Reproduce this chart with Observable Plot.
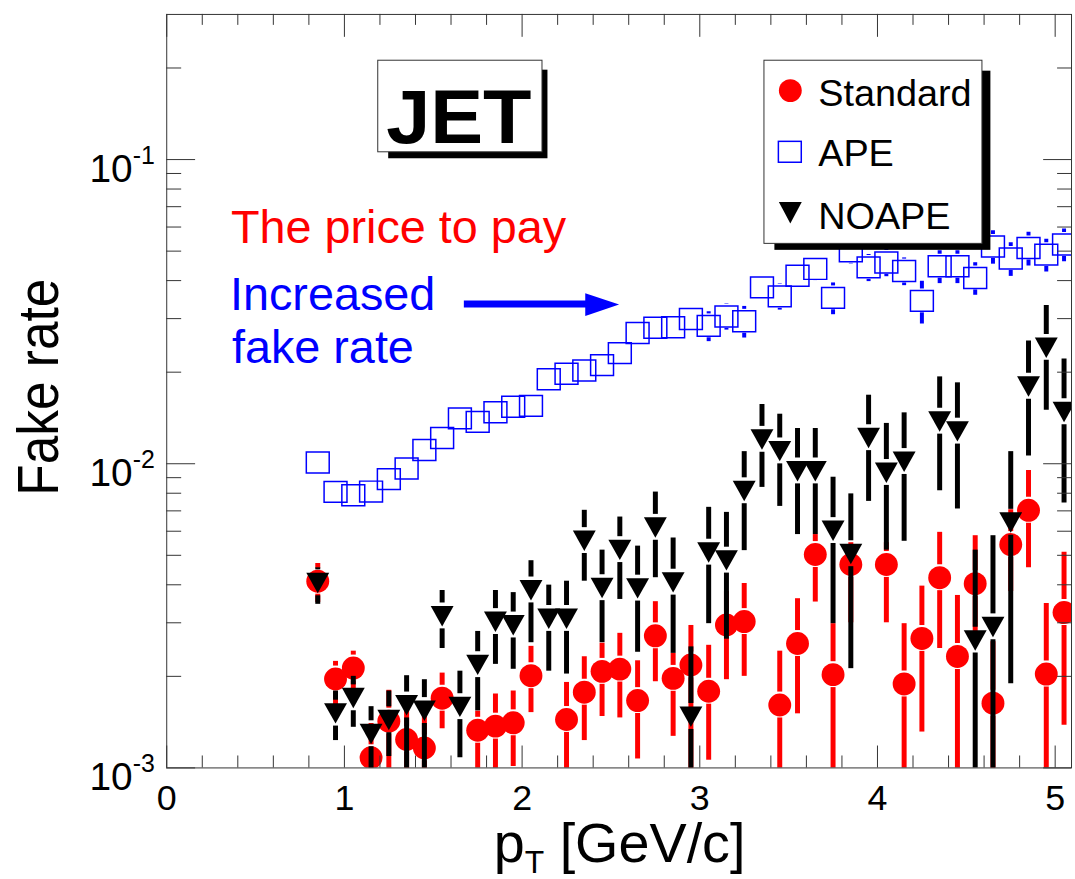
<!DOCTYPE html>
<html>
<head>
<meta charset="utf-8">
<script src="https://cdn.jsdelivr.net/npm/d3@7"></script>
<script src="https://cdn.jsdelivr.net/npm/@observablehq/plot@0.6"></script>
<style>
html,body{margin:0;padding:0;background:#fff;overflow:hidden;}
#chart{position:relative;width:1075px;height:879px;overflow:hidden;}
</style>
</head>
<body>
<div id="chart"></div>
<script>
// ---------------- data ----------------
const ptBins = [0.85,0.95,1.05,1.15,1.25,1.35,1.45,1.55,1.65,1.75,1.85,1.95,2.05,2.15,2.25,2.35,2.45,2.55,2.65,2.75,2.85,2.95,3.05,3.15,3.25,3.35,3.45,3.55,3.65,3.75,3.85,3.95,4.05,4.15,4.25,4.35,4.45,4.55,4.65,4.75,4.85,4.95,5.05];

// Standard (red full circles)
const stdVal = [0.00411,0.00196,0.00213,0.00108,0.001425,0.00124,0.001163,0.001695,null,0.00133,0.001372,0.001407,0.00201,null,0.001443,0.001774,0.002077,0.002113,0.001665,0.002719,0.00197,0.00218,0.001787,0.00295,0.003028,null,0.00161,0.002565,0.00503,0.002026,0.004665,null,0.004665,0.001888,0.002665,0.00422,0.002325,0.004034,0.001632,0.005424,0.00703,0.002035,0.003242];
const stdLo  = [0.0035,0.0016,0.0018,0.0008,0.0009,0.0008,0.0008,0.001345,null,0.0008,0.0008,0.00101,0.00152,null,0.0008,0.00123,0.001476,0.00146,0.00107,0.00192,0.00127,0.0008,0.00106,0.00195,0.002,null,0.0008,0.001506,0.00351,0.0008,0.003,null,0.003,0.0008,0.001312,0.00247,0.0008,0.0026,0.0008,0.0038,0.00455,0.0008,0.00138];
const stdHi  = [0.0047,0.00224,0.00242,0.0014,0.0018,0.0016,0.0015,0.00205,null,0.001537,0.00175,0.00179,0.00251,null,0.00191,0.00232,0.00257,0.00277,0.00225,0.00352,0.00238,0.00294,0.00253,0.0038,0.00404,null,0.00242,0.0036,0.00585,0.00298,0.0055,null,0.0055,0.00298,0.00396,0.00595,0.00369,0.0058,0.0026,0.00706,0.0095,0.00347,0.00512];

// APE (blue open squares)
const apeVal = [0.0101,0.00808,0.00788,0.0081,0.0089,0.00965,0.0111,0.01215,0.0141,0.01373,0.01477,0.0154,0.0155,0.01895,0.01977,0.02026,0.0211,0.0231,0.0269,0.028,0.0281,0.0299,0.0284,0.0305,0.0294,0.038,0.0355,0.0415,0.0437,0.0351,0.0499,0.0442,0.0459,0.043,0.0343,0.0446,0.0446,0.0408,0.0518,0.0473,0.0512,0.0487,0.0526];
const apeErr = [0.0004,0.0003,0.0003,0.0003,0.0003,0.0004,0.0004,0.0005,0.0005,0.0005,0.0006,0.0006,0.0006,0.0007,0.0007,0.0008,0.0008,0.001,0.0012,0.0013,0.0014,0.0016,0.0032,0.003,0.0035,0.003,0.0035,0.0035,0.0038,0.0042,0.0045,0.0045,0.0047,0.0045,0.0055,0.0055,0.0055,0.005,0.0065,0.006,0.0065,0.006,0.0065];

// NOAPE (black full down-triangles)
const noVal = [0.00406,0.001514,0.0017,0.001295,0.00144,0.00161,0.001544,0.00316,0.00159,0.002185,0.003028,0.00295,0.003846,0.0031,0.0031,0.00559,0.003913,0.00522,0.0039,0.00618,0.00408,0.001476,0.00512,0.00482,0.00815,0.01203,0.01102,0.00947,0.00947,0.00603,0.00506,0.01218,0.00936,0.01017,null,0.0138,0.0128,0.00263,0.00291,0.00642,0.01798,0.02412,0.01482];
const noLo  = [0.00345,0.00123,0.00136,0.0008,0.00109,0.0008,0.0008,0.00247,0.00108,0.00154,0.00219,0.00211,0.00258,0.00208,0.002035,0.00411,0.00258,0.00358,0.0024,0.00422,0.00238,0.0008,0.00298,0.00265,0.00518,0.00836,0.00724,0.00585,0.00585,0.00298,0.00212,0.00752,0.0052,0.00556,null,0.00815,0.0071,0.0008,0.0008,0.00189,0.0106,0.015,0.00743];
const noHi  = [0.00455,0.00179,0.002,0.00159,0.00179,0.00201,0.00195,0.00383,0.00208,0.00281,0.00383,0.00377,0.0048,0.00399,0.00411,0.00703,0.0052,0.00668,0.00536,0.00807,0.0057,0.0025,0.00719,0.00692,0.01096,0.01566,0.01455,0.01306,0.01306,0.00903,0.00796,0.0168,0.01357,0.0147,null,0.0193,0.01845,0.0052,0.0058,0.01096,0.0253,0.0331,0.0221];

// axis ticks
const xMajor = [0,1,2,3,4,5];
const xMinor = [0.2,0.4,0.6,0.8,1.2,1.4,1.6,1.8,2.2,2.4,2.6,2.8,3.2,3.4,3.6,3.8,4.2,4.4,4.6,4.8];
const yMajor = [0.001,0.01,0.1];
const yMinor = [0.002,0.003,0.004,0.005,0.006,0.007,0.008,0.009,0.02,0.03,0.04,0.05,0.06,0.07,0.08,0.09,0.2];
const yDomain = [0.001, 0.3];
const xDomain = [0, 5.092];

const legendItems = ["Standard","APE","NOAPE"];
const yTitle = "Fake rate";
const annotRed = "The price to pay";
const annotBlue = ["Increased","fake rate"];
const panelTag = "JET";

// ---------------- build ----------------
const rows = ptBins.map((pt,i)=>({pt,
  std: stdVal[i], stdLo: stdLo[i], stdHi: stdHi[i],
  ape: apeVal[i], apeLo: apeVal[i]-apeErr[i], apeHi: apeVal[i]+apeErr[i],
  no: noVal[i], noLo: noLo[i], noHi: noHi[i]}));

const W = 1080, H = 879, ML = 167, MR = 4, MT = 14, MB = 108;
const innerW = W - ML - MR, innerH = H - MT - MB;
const pxPerDecade = innerH / Math.log10(yDomain[1]/yDomain[0]);
const gapF = px => Math.pow(10, px / pxPerDecade);

function segs(k, kLo, kHi, g){
  const out = [];
  for (const r of rows){
    const v = r[k]; if (v == null) continue;
    if (r[kHi] > v*g) out.push({pt:r.pt, a:v*g, b:r[kHi]});
    if (r[kLo] < v/g) out.push({pt:r.pt, a:r[kLo], b:v/g});
  }
  return out;
}
const stdSegs = segs("std","stdLo","stdHi", gapF(13));
const apeSegs = segs("ape","apeLo","apeHi", gapF(12));
const noSegs  = segs("no","noLo","noHi", gapF(13));

const triDown = {draw(ctx){ctx.moveTo(-11.5,-10);ctx.lineTo(11.5,-10);ctx.lineTo(0,10.5);ctx.closePath();}};
const square  = {draw(ctx){ctx.moveTo(-11.5,-10.5);ctx.lineTo(11.5,-10.5);ctx.lineTo(11.5,10.5);ctx.lineTo(-11.5,10.5);ctx.closePath();}};

const axisCol = "#333";
const svg = Plot.plot({
  width: W, height: H,
  marginLeft: ML, marginRight: MR, marginTop: MT, marginBottom: MB,
  x: {domain: xDomain, axis: null},
  y: {type: "log", domain: yDomain, axis: null},
  style: {fontFamily: "'Liberation Sans', Arial, Helvetica, sans-serif", background: "white", color: "black", overflow: "visible"},
  marks: [
    Plot.ruleX(stdSegs, {x:"pt", y1:"a", y2:"b", stroke:"#ff0000", strokeWidth:5, clip:true}),
    Plot.dot(rows.filter(r=>r.std!=null), {x:"pt", y:"std", r:11.5, fill:"#ff0000", stroke:"none", clip:true}),
    Plot.ruleX(apeSegs, {x:"pt", y1:"a", y2:"b", stroke:"#0000ff", strokeWidth:4, clip:true}),
    Plot.dot(rows, {x:"pt", y:"ape", r:10, symbol: square, fill:"none", stroke:"#0000ff", strokeWidth:1.5, clip:true}),
    Plot.ruleX(noSegs, {x:"pt", y1:"a", y2:"b", stroke:"#000", strokeWidth:5, clip:true}),
    Plot.dot(rows.filter(r=>r.no!=null), {x:"pt", y:"no", r:10, symbol: triDown, fill:"#000", stroke:"none", clip:true}),
    // ticks (inside, all sides)
    Plot.tickX(xMajor, {x:d=>d, insetTop: innerH-22, stroke:axisCol}),
    Plot.tickX(xMinor, {x:d=>d, insetTop: innerH-12, stroke:axisCol}),
    Plot.tickX(xMajor, {x:d=>d, insetBottom: innerH-23, stroke:axisCol}),
    Plot.tickX(xMinor, {x:d=>d, insetBottom: innerH-11, stroke:axisCol}),
    Plot.tickY(yMajor, {y:d=>d, insetRight: innerW-29, stroke:axisCol}),
    Plot.tickY(yMinor, {y:d=>d, insetRight: innerW-15, stroke:axisCol}),
    Plot.tickY(yMajor, {y:d=>d, insetLeft: innerW-28, stroke:axisCol}),
    Plot.tickY(yMinor, {y:d=>d, insetLeft: innerW-14, stroke:axisCol}),
    Plot.frame({stroke: axisCol}),
    Plot.axisX({ticks: xMajor, anchor:"bottom", tickSize:0, tickPadding:17, fontSize:36, label:null, tickFormat:d=>String(d)}),
    Plot.axisY({ticks: yMajor, anchor:"left", tickSize:0, tickPadding:12, fontSize:39, dy:10, label:null, tickFormat:d=>String(Math.round(Math.log10(d)))})
  ]
});
document.getElementById("chart").appendChild(svg);

const s = d3.select(svg);
// superscript exponent on y tick labels
s.selectAll('g[aria-label="y-axis tick label"] text').each(function(){
  const e = this.textContent;
  const t = d3.select(this); t.text(null);
  t.append("tspan").text("10");
  t.append("tspan").attr("font-size", 25).attr("dy", "-0.72em").text(e);
});

const ff = "'Liberation Sans', Arial, Helvetica, sans-serif";
const g = s.append("g").attr("font-family", ff).attr("text-anchor", "start").attr("fill", "#000");

// axis titles
g.append("text").attr("transform","translate(58,389) rotate(-90)").attr("text-anchor","middle")
  .attr("font-size",57).attr("textLength",218).attr("lengthAdjust","spacingAndGlyphs").text(yTitle);
const xt = g.append("text").attr("x",496).attr("y",866).attr("font-size",56);
xt.append("tspan").text("p");
xt.append("tspan").attr("font-size",32).attr("dy",11).text("T");
xt.append("tspan").attr("dy",-11).text(" [GeV/c]");

// JET tag
g.append("rect").attr("x",390).attr("y",70).attr("width",160).attr("height",89).attr("fill","#000");
g.append("rect").attr("x",379.5).attr("y",60.5).attr("width",165).attr("height",92).attr("fill","#fff").attr("stroke",axisCol);
g.append("text").attr("x",461).attr("y",144).attr("text-anchor","middle").attr("font-size",77).attr("font-weight","bold")
  .attr("textLength",146).attr("lengthAdjust","spacingAndGlyphs").text(panelTag);

// annotations
g.append("text").attr("x",232).attr("y",244).attr("font-size",47).attr("fill","#ff0000").text(annotRed);
g.append("text").attr("x",231).attr("y",311).attr("font-size",47).attr("fill","#0000ff").text(annotBlue[0]);
g.append("text").attr("x",233).attr("y",365).attr("font-size",47).attr("fill","#0000ff").text(annotBlue[1]);
g.append("line").attr("x1",466).attr("x2",592).attr("y1",305.5).attr("y2",305.5).attr("stroke","#0000ff").attr("stroke-width",7);
g.append("path").attr("d","M588,294.5L622,306L588,317.5Z").attr("fill","#0000ff");

// legend
g.append("rect").attr("x",778).attr("y",71).attr("width",217).attr("height",180).attr("fill","#000");
g.append("rect").attr("x",767.5).attr("y",60.5).attr("width",219).attr("height",184).attr("fill","#fff").attr("stroke",axisCol);
g.append("circle").attr("cx",794).attr("cy",91).attr("r",11.5).attr("fill","#ff0000");
g.append("rect").attr("x",782).attr("y",142).attr("width",23).attr("height",21).attr("fill","none").attr("stroke","#0000ff").attr("stroke-width",1.5);
g.append("path").attr("d","M782.5,203L805.5,203L794,224.5Z").attr("fill","#000");
const ly = [107, 167, 230];
legendItems.forEach((t,i)=>g.append("text").attr("x",822).attr("y",ly[i]).attr("font-size",38).text(t));
</script>
</body>
</html>
